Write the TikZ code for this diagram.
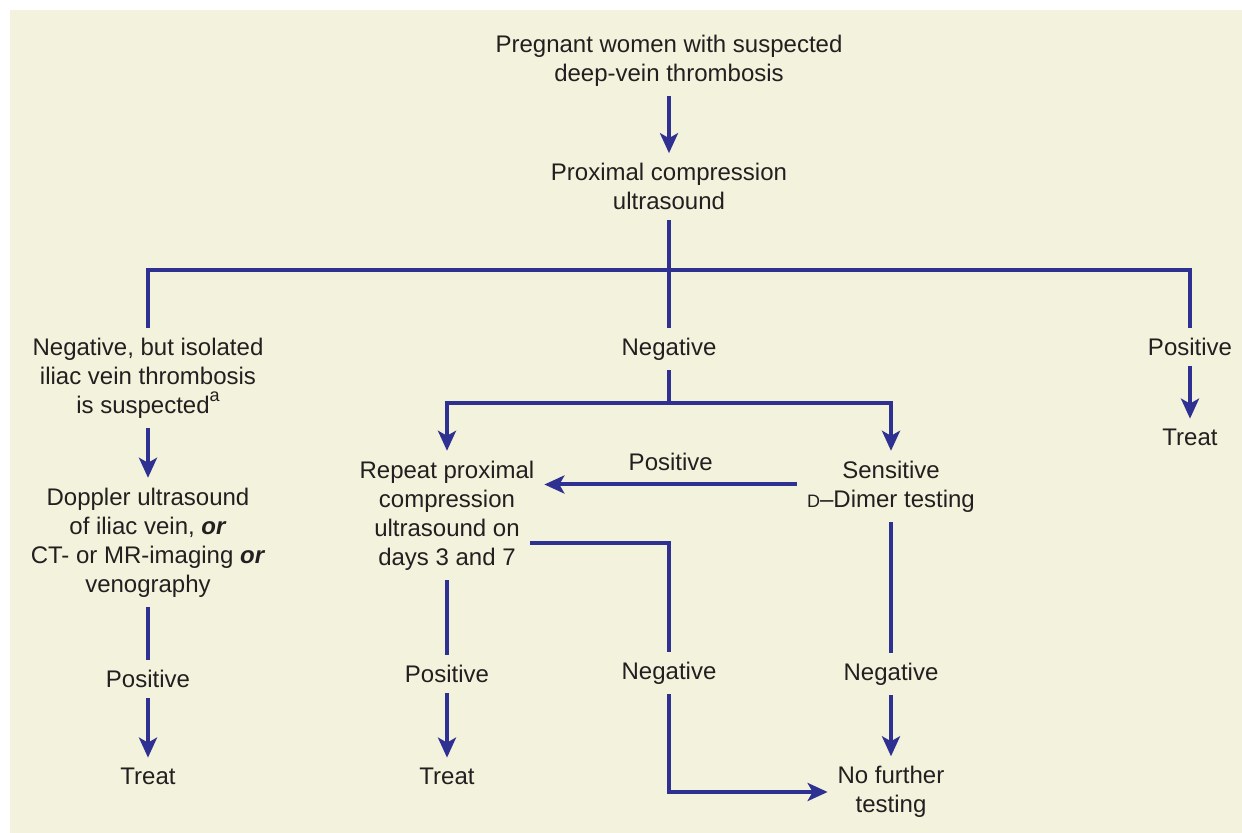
\documentclass[tikz,border=0pt]{standalone}
\usepackage{fontspec}
\setmainfont{Liberation Sans}
\usepackage{xcolor}
\usepackage{tikz}
\usetikzlibrary{arrows.meta,positioning}
\definecolor{bg}{HTML}{F3F2DC}
\definecolor{ink}{HTML}{231F20}
\definecolor{navy}{HTML}{2E3192}
\tikzset{
  txt/.style={align=center, inner sep=0pt, outer sep=5pt, text=ink, font=\fontsize{12}{14.5}\selectfont},
  link/.style={navy, line width=2pt},
  edge/.style={link, -{Stealth[length=10pt, width=9pt, inset=2.5pt]}},
}
\newcommand{\orb}{\textbf{\textit{or}}}

\begin{document}
\begin{tikzpicture}[x=0.5pt, y=-0.5pt]
  \useasboundingbox (0,0) rectangle (1242,833);
  \fill[bg] (10,10) rectangle (1242,833);

  % top of the chart
  \node[txt] (start) at (669,60.5) {Pregnant women with suspected\\deep-vein thrombosis};
  \node[txt] (pcus) at (669,186.5) {Proximal compression\\ultrasound};
  \coordinate (bar) at (669,270);

  % three outcomes
  \node[txt] (negiliac) at (148,378) {Negative, but isolated\\iliac vein thrombosis\\is suspected\raisebox{0.9ex}{\fontsize{9}{9}\selectfont a}};
  \node[txt] (neg) at (669,349) {Negative};
  \node[txt] (pos) at (1190,347) {Positive};
  \node[txt] (treatR) at (1190,437) {Treat};
  \coordinate (split) at (669,403);

  % left column
  \node[txt] (doppler) at (148,542.5) {Doppler ultrasound\\of iliac vein, \orb\\CT- or MR-imaging \orb\\venography};
  \node[txt] (posL) at (148,679) {Positive};
  \node[txt] (treatL) at (148,776) {Treat};

  % middle columns
  \node[txt] (repeat) at (447,515.5) {Repeat proximal\\compression\\ultrasound on\\days 3 and 7};
  \node[txt] (ddimer) at (891,486.5) {Sensitive\\{\fontsize{9}{9}\selectfont D}--Dimer testing};
  \node[txt] (posC) at (447,674) {Positive};
  \node[txt] (treatC) at (447,776) {Treat};
  \node[txt] (negC) at (669,673) {Negative};
  \node[txt] (negR) at (891,674) {Negative};
  \node[txt] (nft) at (891,792) {No further\\testing};

  \draw[edge] (start) -- (pcus);
  \draw[link] (pcus) -- (bar);
  \draw[link] (bar) -| (negiliac.north);
  \draw[link] (bar) -| (pos.north);
  \draw[link] (bar) -- (neg);
  \draw[edge] (pos) -- (treatR);

  \draw[edge] (negiliac) -- (doppler);
  \draw[link] (doppler) -- (posL);
  \draw[edge] (posL) -- (treatL);

  \draw[link] (neg) -- (split);
  \draw[edge] (split) -| (repeat.north);
  \draw[edge] (split) -| (ddimer.north);
  \draw[edge] ([yshift=1pt]ddimer.west) -- node[txt, above=2pt] (posM) {Positive} ([yshift=1pt]ddimer.west -| repeat.east);

  \draw[link] (repeat) -- (posC);
  \draw[edge] (posC) -- (treatC);
  \draw[link] ([shift={(-14,27.5)}]repeat.east) -| (negC.north);
  \draw[edge] (negC.south) |- (nft.west);
  \draw[link] (ddimer) -- (negR);
  \draw[edge] (negR) -- (nft);
\end{tikzpicture}
\end{document}
